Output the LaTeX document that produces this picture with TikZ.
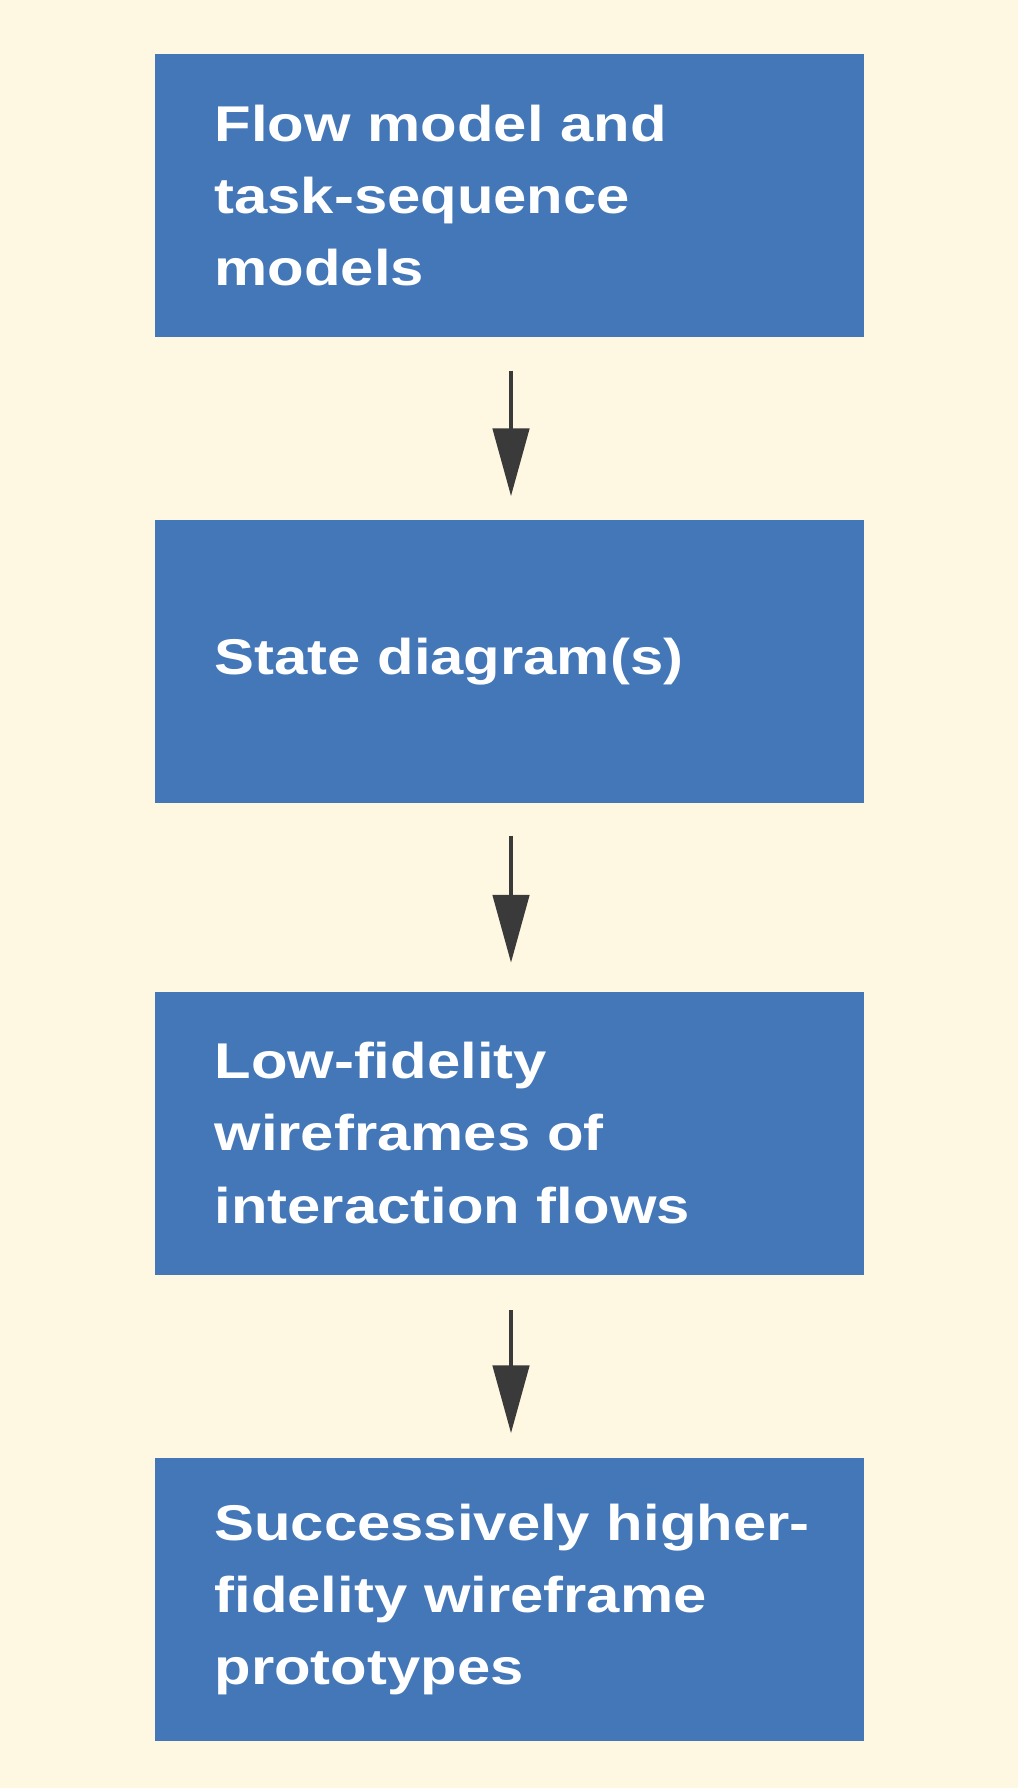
\documentclass[tikz,border=0pt]{standalone}
\usepackage{fontspec}
\setmainfont{Liberation Sans}[FakeStretch=1.19]
\usetikzlibrary{arrows.meta}
\definecolor{bgcream}{RGB}{254,247,226}
\definecolor{boxblue}{RGB}{68,119,184}
\definecolor{arrowgray}{RGB}{58,58,58}
\tikzset{
  stepbox/.style={fill=boxblue, draw=none, text=white,
    minimum width=7.09cm, minimum height=2.83cm,
    text width=5.89cm, inner xsep=0.6cm, inner ysep=0pt, align=left,
    font=\fontsize{14.3pt}{20.6pt}\selectfont\bfseries},
  flowarrow/.style={draw=arrowgray, line width=1.4pt,
    -{Triangle[length=0.68cm,width=0.36cm]}}
}
\begin{document}
\begin{tikzpicture}
\useasboundingbox (0,0) rectangle (10.18,-17.88);
\fill[bgcream] (0,0) rectangle (10.18,-17.88);
\node[stepbox] (b1) at (5.09,-1.955) {Flow model and\\task-sequence\\models};
\node[stepbox] (b2) at (5.09,-6.615) {State diagram(s)};
\node[stepbox] (b3) at (5.09,-11.33) {Low-fidelity\\wireframes of\\interaction flows};
\node[stepbox] (b4) at (5.09,-15.995) {\mbox{Successively higher-}\\\mbox{fidelity wireframe}\\prototypes};
\draw[flowarrow] ([xshift=0.02cm,yshift=-0.33cm]b1.south) -- ([xshift=0.02cm,yshift=0.23cm]b2.north);
\draw[flowarrow] ([xshift=0.02cm,yshift=-0.32cm]b2.south) -- ([xshift=0.02cm,yshift=0.28cm]b3.north);
\draw[flowarrow] ([xshift=0.02cm,yshift=-0.35cm]b3.south) -- ([xshift=0.02cm,yshift=0.24cm]b4.north);
\end{tikzpicture}
\end{document}
